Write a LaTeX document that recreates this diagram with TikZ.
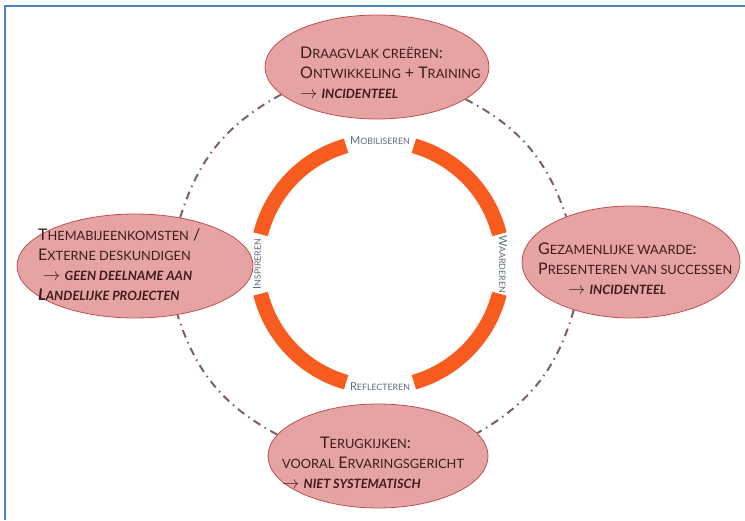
\documentclass[tikz,border=0pt]{standalone}
\usepackage{fontspec}
\setmainfont{Lato}
\usetikzlibrary{shapes.geometric}

\definecolor{ringorange}{HTML}{F75B1E}
\definecolor{ovalfill}{HTML}{E6A3A3}
\definecolor{ovaldraw}{HTML}{C0504D}
\definecolor{ovaltext}{HTML}{3E1C1C}
\definecolor{linkgray}{HTML}{7E5F68}
\definecolor{framelin}{HTML}{4F81BD}
\definecolor{ringtext}{HTML}{5E6B78}

\makeatletter
\newlength\smclen
\newcommand{\smc}[1]{{\smclen=0.8\dimexpr\f@size pt\relax\fontsize{\smclen}{\smclen}\selectfont\MakeUppercase{#1}}}
\makeatother
\newcommand{\pijl}{$\rightarrow$}

\begin{document}
\begin{tikzpicture}[x=1pt, y=1pt, oval/.style={ellipse,draw=ovaldraw,line width=0.8pt,fill=ovalfill,inner sep=0pt}, ovaltxt/.style={anchor=west,inner sep=0pt,text=ovaltext,align=left,font=\fontsize{16}{20}\selectfont}, ringarc/.style={draw=ringorange,line width=15pt}, ringlbl/.style={text=ringtext,font=\fontsize{11}{12}\selectfont,inner sep=1pt}, link/.style={draw=linkgray,line width=2pt,dash pattern=on 8pt off 5pt on 1.5pt off 5pt}]
    \useasboundingbox (0,0) rectangle (745,520);
    \draw[framelin, line width=2pt] (5,0) -- (5,514) -- (745,514);

    \coordinate (hub) at (380,256);
    \foreach \a in {14,106,194,286}{
      \draw[ringarc] ([shift={(\a:123)}]hub) arc[start angle=\a, end angle=\a+60, radius=123];
    }
    \node[ringlbl] (mob) at ([shift={(90:123)}]hub) {M\smc{obiliseren}};
    \node[ringlbl, rotate=-90] (waa) at ([shift={(0:123)}]hub) {W\smc{aarderen}};
    \node[ringlbl] (ref) at ([shift={(270:123)}]hub) {R\smc{eflecteren}};
    \node[ringlbl, rotate=90] (ins) at ([shift={(180:123)}]hub) {I\smc{nspireren}};

    \node[oval, minimum width=224, minimum height=104] (draag) at (377,453) {};
    \node[oval, minimum width=236, minimum height=104] (thema) at (135,254) {};
    \node[oval, minimum width=218, minimum height=112] (waarde) at (631,258) {};
    \node[oval, minimum width=220, minimum height=104] (terug) at (378,64) {};

    \node[ovaltxt] (draagtxt) at (300,447) {D\smc{raagvlak creëren}:\\O\smc{ntwikkeling} + T\smc{raining}\\\pijl\ \textbf{\textit{\smc{incidenteel}}}};
    \node[ovaltxt] (thematxt) at (38,255) {T\smc{hemabijeenkomsten} /\\E\smc{xterne deskundigen}\\\hspace{5pt}\pijl\ \textbf{\textit{\smc{geen deelname aan}}}\\\textbf{\textit{L\smc{andelijke projecten}}}};
    \node[ovaltxt] (waardetxt) at (538,251) {G\smc{ezamenlijke waarde}:\\P\smc{resenteren van successen}\\\hspace{30pt}\pijl\ \textbf{\textit{\smc{incidenteel}}}};
    \node[ovaltxt] (terugtxt) at (282,57) {\hspace{38pt}T\smc{erugkijken}:\\\smc{vooral} E\smc{rvaringsgericht}\\\pijl\ \textbf{\textit{\smc{niet systematisch}}}};

    \draw[link] (thema.47) to[bend left=22] (draag.196);
    \draw[link] (draag.340) to[bend left=22] (waarde.145);
    \draw[link] (waarde.220) to[bend left=22] (terug.13);
    \draw[link] (terug.168) to[bend left=22] (thema.311);
\end{tikzpicture}
\end{document}
